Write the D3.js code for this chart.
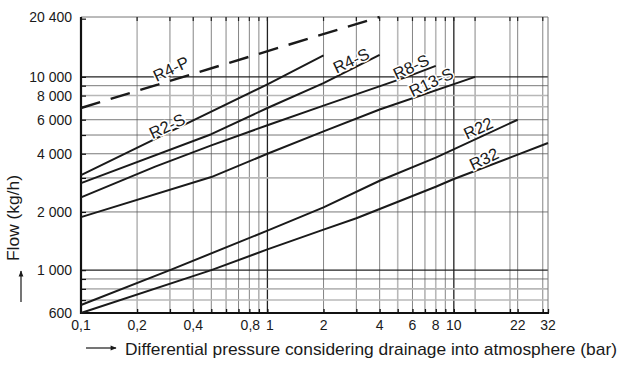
<!DOCTYPE html>
<html>
<head>
<meta charset="utf-8">
<script src="https://cdn.jsdelivr.net/npm/d3@7"></script>
<style>
  body { margin: 0; background: #fff; }
  svg { display: block; }
  text { font-family: "Liberation Sans", Arial, sans-serif; fill: #1a1a1a; }
</style>
</head>
<body>
<svg id="chart" width="622" height="365"></svg>
<script>
// Flow capacity per valve type vs. differential pressure (log-log)
const seriesNames = ["R4-P", "R2-S", "R4-S", "R8-S", "R13-S", "R22", "R32"];

const pressureR4P = [0.1, 4];
const flowR4P     = [6900, 20400];

const pressureR2S = [0.1, 0.4, 1, 2];
const flowR2S     = [3100, 5950, 9150, 12900];

const pressureR4S = [0.1, 0.5, 1, 2, 4];
const flowR4S     = [2820, 5050, 6900, 9270, 13000];

const pressureR8S = [0.1, 0.25, 0.5, 1, 2, 5.6, 8];
const flowR8S     = [2380, 3430, 4420, 5620, 7100, 10000, 11400];

const pressureR13S = [0.1, 0.5, 1, 2, 4, 13];
const flowR13S     = [1880, 3030, 4000, 5220, 6780, 10000];

const pressureR22 = [0.1, 0.3, 1, 2, 4, 8, 22];
const flowR22     = [660, 1000, 1600, 2110, 2900, 3820, 6000];

const pressureR32 = [0.1, 0.5, 1, 2, 3, 8, 10, 20, 32];
const flowR32     = [600, 1000, 1280, 1620, 1855, 2700, 2960, 3820, 4550];

// Where each curve name is written (pressure, flow)
const labelPressure = [0.304, 0.289, 2.81, 5.89, 7.55, 13.5, 14.5];
const labelFlow     = [11020, 5570, 12150, 11290, 9408, 5436, 3774];

// Axis ticks and grid
const xDomain = [0.1, 32];
const yDomain = [600, 20400];
const xGridValues = [0.2, 0.3, 0.4, 0.5, 0.6, 0.7, 0.8, 0.9, 1, 2, 3, 4, 5, 6, 7, 8, 9, 10, 13, 20, 22, 30];
const xGridLight  = [0.2, 5, 8, 20];
const xGridHeavy  = [1, 10];
const xTickLabels = [0.1, 0.2, 0.4, 0.8, 1, 2, 4, 6, 8, 10, 22, 32];
const yGridValues = [700, 800, 900, 1000, 2000, 3000, 4000, 5000, 6000, 7000, 8000, 9000, 10000];
const yGridLight  = [700, 800, 3000, 7000, 8000];
const yTickMarks  = [700, 800, 900, 1000, 2000, 3000, 4000, 5000, 6000, 7000, 8000, 9000, 10000, 20000];
const yTickLabels = [600, 1000, 2000, 4000, 6000, 8000, 10000, 20400];

const series = [
  { name: "R4-P",  p: pressureR4P,  q: flowR4P,  dashed: true },
  { name: "R2-S",  p: pressureR2S,  q: flowR2S },
  { name: "R4-S",  p: pressureR4S,  q: flowR4S },
  { name: "R8-S",  p: pressureR8S,  q: flowR8S },
  { name: "R13-S", p: pressureR13S, q: flowR13S },
  { name: "R22",   p: pressureR22,  q: flowR22 },
  { name: "R32",   p: pressureR32,  q: flowR32 }
];

const plot = { left: 81, right: 548, top: 17, bottom: 313 };

const svg = d3.select("#chart");
svg.append("rect").attr("width", 622).attr("height", 365).attr("fill", "#fff");

const x = d3.scaleLog().domain(xDomain).range([plot.left, plot.right]);
const y = d3.scaleLog().domain(yDomain).range([plot.bottom, plot.top]);

const fmtX = d => String(d).replace(".", ",");
const fmtY = d => d3.format(",")(d).replace(/,/g, " ");

// Grid
const grid = svg.append("g");
grid.selectAll("line.v").data(xGridValues).join("line")
  .attr("x1", d => x(d)).attr("x2", d => x(d))
  .attr("y1", plot.top).attr("y2", plot.bottom)
  .attr("stroke", d => xGridLight.includes(d) ? "#b8b8b8" : (xGridHeavy.includes(d) ? "#222" : "#666"))
  .attr("stroke-width", d => xGridLight.includes(d) ? 1.6 : (xGridHeavy.includes(d) ? 1.3 : 0.8));
grid.selectAll("line.h").data(yGridValues).join("line")
  .attr("x1", plot.left).attr("x2", plot.right)
  .attr("y1", d => y(d)).attr("y2", d => y(d))
  .attr("stroke", d => yGridLight.includes(d) ? "#b8b8b8" : (d === 10000 || d === 1000 ? "#222" : "#555"))
  .attr("stroke-width", d => yGridLight.includes(d) ? 1.6 : (d === 10000 || d === 1000 ? 1.1 : 0.8));

// Frame: thin top/right, heavy left/bottom
svg.append("line").attr("x1", plot.left).attr("x2", plot.right).attr("y1", plot.top).attr("y2", plot.top)
  .attr("stroke", "#777").attr("stroke-width", 1);
svg.append("line").attr("x1", plot.right).attr("x2", plot.right).attr("y1", plot.top).attr("y2", plot.bottom)
  .attr("stroke", "#777").attr("stroke-width", 1);

// Tick marks on top edge
svg.append("g").selectAll("line").data(xGridValues).join("line")
  .attr("x1", d => x(d)).attr("x2", d => x(d))
  .attr("y1", plot.top).attr("y2", plot.top + 4)
  .attr("stroke", "#222").attr("stroke-width", 1.2);

// Bottom axis
const xAxis = d3.axisBottom(x).tickValues(xGridValues.concat([32])).tickSize(-4).tickFormat("");
const gx = svg.append("g").attr("transform", `translate(0,${plot.bottom})`).call(xAxis);
gx.select(".domain").remove();
gx.selectAll(".tick line").attr("stroke", "#111").attr("stroke-width", 1.3);
svg.append("line").attr("x1", plot.left - 1).attr("x2", plot.right + 1).attr("y1", plot.bottom).attr("y2", plot.bottom)
  .attr("stroke", "#111").attr("stroke-width", 2.2);

// "0,8" and "1" sit close together, so nudge them apart slightly
const xLabelNudge = d => (d === 0.8 ? 1 : (d === 1 ? 2.5 : 0));
svg.append("g").selectAll("text").data(xTickLabels).join("text")
  .attr("x", d => x(d) + xLabelNudge(d))
  .attr("y", 330)
  .attr("text-anchor", "middle")
  .attr("font-size", 14)
  .text(fmtX);

// Left axis
const yAxis = d3.axisLeft(y).tickValues(yTickMarks).tickSize(-5).tickFormat("");
const gy = svg.append("g").attr("transform", `translate(${plot.left},0)`).call(yAxis);
gy.select(".domain").remove();
gy.selectAll(".tick line").attr("stroke", "#111").attr("stroke-width", 1.2);
svg.append("line").attr("x1", plot.left).attr("x2", plot.left).attr("y1", plot.top).attr("y2", plot.bottom + 1)
  .attr("stroke", "#111").attr("stroke-width", 2.2);

svg.append("g").selectAll("text").data(yTickLabels).join("text")
  .attr("x", 72)
  .attr("y", d => y(d))
  .attr("dy", "0.36em")
  .attr("text-anchor", "end")
  .attr("font-size", 14)
  .text(fmtY);

// Curves
const line = d3.line().x(d => x(d[0])).y(d => y(d[1]));
svg.append("g").selectAll("path").data(series).join("path")
  .attr("d", s => line(s.p.map((p, i) => [p, s.q[i]])))
  .attr("fill", "none")
  .attr("stroke", "#1a1a1a")
  .attr("stroke-width", d => d.dashed ? 2.4 : 2)
  .attr("stroke-dasharray", d => d.dashed ? "20,11" : null)
  .attr("stroke-linejoin", "round");

// Curve names
svg.append("g").selectAll("text").data(seriesNames).join("text")
  .attr("transform", (d, i) => `translate(${x(labelPressure[i])},${y(labelFlow[i])}) rotate(-25)`)
  .attr("text-anchor", "middle")
  .attr("dy", "0.36em")
  .attr("font-size", 16.5)
  .attr("stroke", "#fff")
  .attr("stroke-width", 3)
  .attr("paint-order", "stroke")
  .text(d => d);

// Axis titles with arrows
svg.append("defs").append("marker")
  .attr("id", "arrow").attr("viewBox", "0 0 10 10")
  .attr("refX", 9).attr("refY", 5)
  .attr("markerWidth", 7).attr("markerHeight", 5)
  .attr("orient", "auto")
  .append("path").attr("d", "M0,1 L10,5 L0,9 Z").attr("fill", "#1a1a1a");

svg.append("line").attr("x1", 86).attr("x2", 116).attr("y1", 348).attr("y2", 348)
  .attr("stroke", "#1a1a1a").attr("stroke-width", 1.2).attr("marker-end", "url(#arrow)");
svg.append("text")
  .attr("x", 125).attr("y", 355)
  .attr("font-size", 17)
  .attr("textLength", 492).attr("lengthAdjust", "spacingAndGlyphs")
  .text("Differential pressure considering drainage into atmosphere (bar)");

svg.append("line").attr("x1", 21).attr("x2", 21).attr("y1", 302).attr("y2", 271)
  .attr("stroke", "#1a1a1a").attr("stroke-width", 1.2).attr("marker-end", "url(#arrow)");
svg.append("text")
  .attr("transform", "translate(19,261) rotate(-90)")
  .attr("font-size", 17)
  .attr("textLength", 86).attr("lengthAdjust", "spacingAndGlyphs")
  .text("Flow (kg/h)");
</script>
</body>
</html>
